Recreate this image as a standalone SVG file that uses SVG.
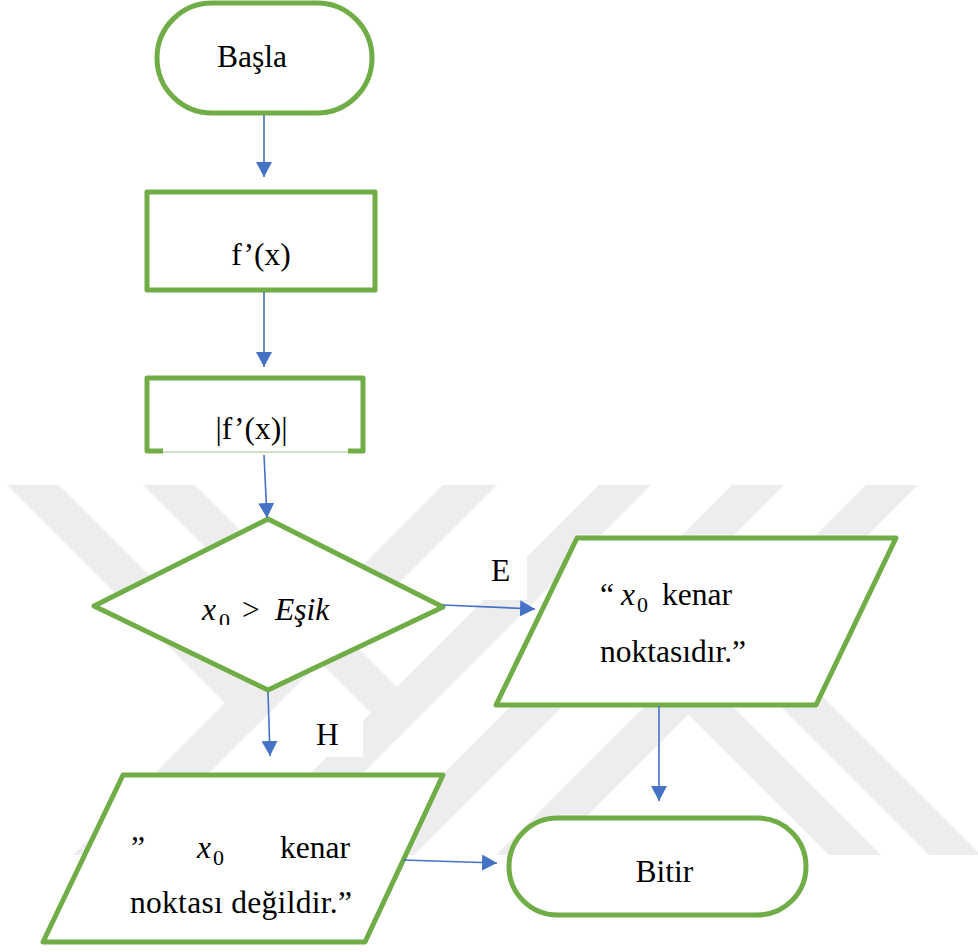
<svg xmlns="http://www.w3.org/2000/svg" width="978" height="952" viewBox="0 0 978 952">
  <defs>
    <style>
      .shape { fill: #ffffff; stroke: #70AD47; stroke-width: 5; stroke-linejoin: round; }
      text { font-family: 'Liberation Serif', 'Times New Roman', 'DejaVu Serif', serif; fill: #000000; }
      .txt { font-size: 31.5px; }
      .math { font-style: italic; font-size: 31.5px; }
      .sub { font-size: 22px; }
      .wire { fill: none; stroke: #4472C4; stroke-width: 1.6; marker-end: url(#arrow); }
      .band { fill: #ededed; }
      .labelbg { fill: #ffffff; }
    </style>
    <marker id="arrow" markerUnits="userSpaceOnUse" markerWidth="16" markerHeight="16" refX="15" refY="8" orient="auto">
      <path d="M0,0 L15,8 L0,16 Z" fill="#4472C4"/>
    </marker>
    <clipPath id="subclip">
      <rect x="0" y="0" width="978" height="625"/>
    </clipPath>
  </defs>

  <rect width="978" height="952" fill="#ffffff"/>

  <!-- background emblem: diagonal grey bands -->
  <g id="emblem">
    <polygon class="band" points="7,485 59,485 278,704 252,730"/>
    <polygon class="band" points="443,485 497,485 127,855 73,855"/>
    <polygon class="band" points="143,485 195,485 423,713 397,739"/>
    <polygon class="band" points="599,485 651,485 281,855 229,855"/>
    <polygon class="band" points="732,485 784,485 414,855 362,855"/>
    <polygon class="band" points="866,485 918,485 548,855 496,855"/>
    <polygon class="band" points="671.5,545.5 645.5,571.5 929,855 978,855 978,852"/>
    <polygon class="band" points="688.5,662.5 662.5,688.5 829,855 881,855"/>
  </g>

  <!-- branch label backgrounds -->
  <rect class="labelbg" x="478" y="554" width="49" height="46"/>
  <rect class="labelbg" x="277" y="717" width="86" height="40"/>

  <g id="start">
    <rect class="shape" x="157" y="3" width="215" height="110" rx="55" ry="55" stroke-width="4.5"/>
    <text class="txt" x="252" y="67" text-anchor="middle" font-family="Liberation Serif, serif">Başla</text>
  </g>

  <g id="derivative">
    <rect class="shape" x="147" y="192" width="228" height="98"/>
    <text class="txt" x="261" y="265" text-anchor="middle" font-family="Liberation Serif, serif">f’(x)</text>
  </g>

  <g id="magnitude">
    <rect x="147" y="378" width="216" height="74" fill="#ffffff"/>
    <path class="shape" fill="none" d="M163,451 L147,451 L147,378 L363,378 L363,451 L348,451"/>
    <line x1="163" y1="452" x2="348" y2="452" stroke="#9fc58a" stroke-width="1.2"/>
    <text class="txt" x="251.5" y="439" text-anchor="middle" font-family="Liberation Serif, serif">|f’(x)|</text>
  </g>

  <g id="threshold">
    <polygon class="shape" points="268,519 443,607 268,690 94,606"/>
    <text class="math" x="202" y="620" font-family="Liberation Serif, serif">x</text>
    <text class="sub" x="219" y="628" clip-path="url(#subclip)" font-family="Liberation Serif, serif">0</text>
    <text class="txt" x="242" y="620" font-family="Liberation Serif, serif">&gt;</text>
    <text class="math" x="275" y="620" font-family="Liberation Serif, serif">Eşik</text>
  </g>

  <g id="edge-output">
    <polygon class="shape" points="577,538 896,538 816,705 496,705"/>
    <text class="txt" x="600" y="605" font-family="Liberation Serif, serif">“</text>
    <text class="math" x="621" y="605" font-family="Liberation Serif, serif">x</text>
    <text class="sub" x="637" y="612" font-family="Liberation Serif, serif">0</text>
    <text class="txt" x="662" y="605" font-family="Liberation Serif, serif">kenar</text>
    <text class="txt" x="600" y="662" font-family="Liberation Serif, serif">noktasıdır.”</text>
  </g>

  <g id="non-edge-output">
    <polygon class="shape" points="123,775 443,775 365,942 43,942"/>
    <text class="txt" x="131" y="858" font-family="Liberation Serif, serif">”</text>
    <text class="math" x="197" y="858" font-family="Liberation Serif, serif">x</text>
    <text class="sub" x="213" y="865" font-family="Liberation Serif, serif">0</text>
    <text class="txt" x="280" y="858" font-family="Liberation Serif, serif">kenar</text>
    <text class="txt" x="130" y="913" textLength="222" lengthAdjust="spacing" font-family="Liberation Serif, serif">noktası değildir.”</text>
  </g>

  <g id="end">
    <rect class="shape" x="509" y="818" width="297" height="97" rx="48.5" ry="48.5"/>
    <text class="txt" x="664.5" y="882" text-anchor="middle" font-family="Liberation Serif, serif">Bitir</text>
  </g>

  <g id="connectors">
    <line class="wire" x1="264" y1="115" x2="264" y2="177"/>
    <line class="wire" x1="264" y1="292" x2="264" y2="367"/>
    <line class="wire" x1="264" y1="455" x2="267" y2="518"/>
    <line class="wire" x1="443" y1="605" x2="535" y2="609"/>
    <line class="wire" x1="268" y1="692" x2="270" y2="756"/>
    <line class="wire" x1="659" y1="706" x2="659" y2="801"/>
    <line class="wire" x1="403" y1="860" x2="497" y2="863"/>
  </g>

  <g id="branch-labels">
    <text class="txt" x="491" y="581" font-family="Liberation Serif, serif">E</text>
    <text class="txt" x="316" y="745" font-family="Liberation Serif, serif">H</text>
  </g>
</svg>
